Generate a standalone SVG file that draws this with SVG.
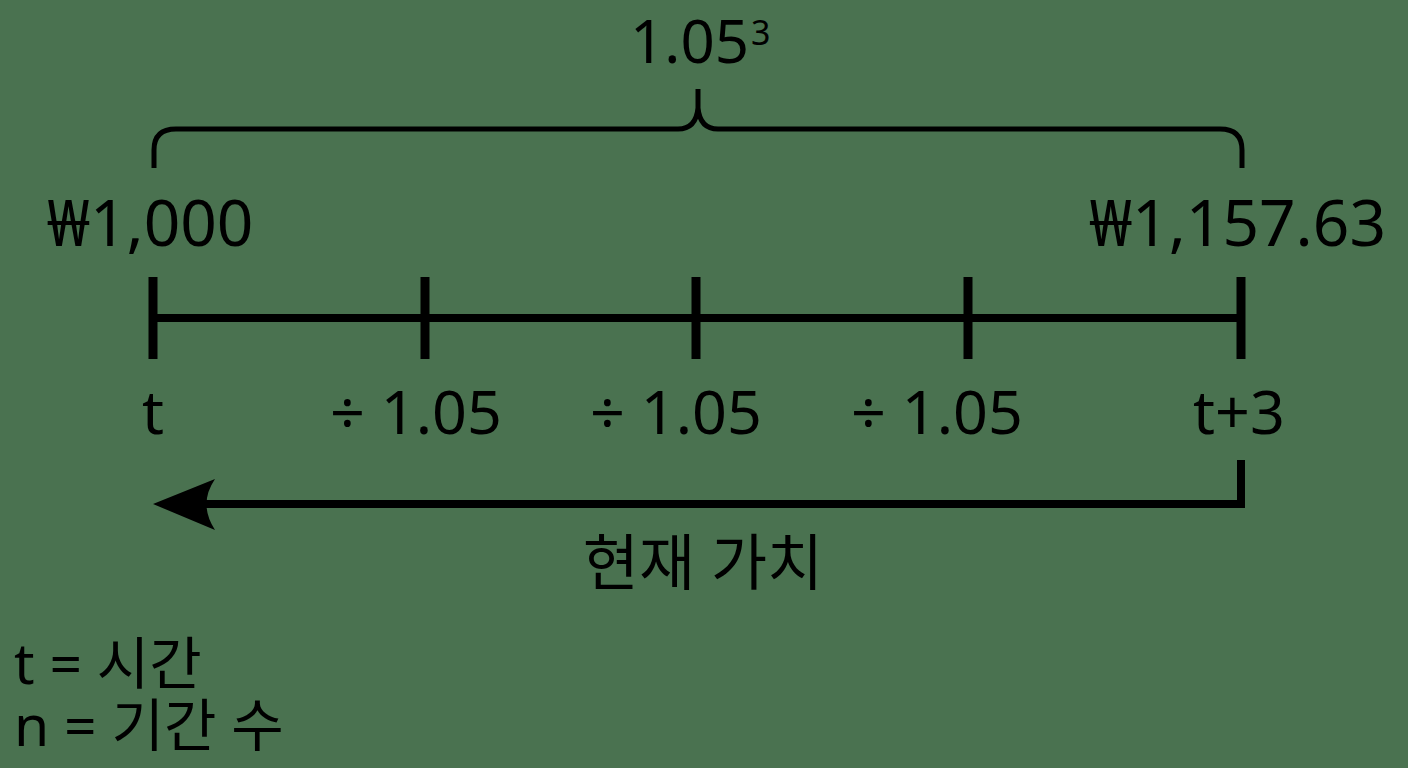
<svg xmlns="http://www.w3.org/2000/svg" width="1408" height="768" viewBox="0 0 1408 768">
<style>
text{font-family:"Noto Sans","Noto Sans CJK KR",sans-serif;fill:#000}
.lbl{font-size:61px;text-anchor:middle}
.line{stroke:#000;stroke-width:8;fill:none}
.tick{stroke:#000;stroke-width:9;fill:none}
</style>
<rect width="1408" height="768" fill="#4a7250"/>
<g id="brace">
<path d="M154,168 V150 Q154,129 176,129 H678 Q696,129 698,108 V89 M698,108 Q700,129 718,129 H1220 Q1242,129 1242,150 V168" stroke="#000" stroke-width="5" fill="none"/>
<text x="630" y="63" font-size="60">1.05<tspan font-size="34" dy="-18" dx="2">3</tspan></text>
</g>
<g id="amounts">
<text x="47" y="246" font-size="64">₩1,000</text>
<text x="1386" y="246" font-size="64" text-anchor="end">₩1,157.63</text>
</g>
<g id="timeline">
<line class="line" x1="152" y1="318" x2="1242" y2="318"/>
<line class="tick" x1="153" y1="277" x2="153" y2="359"/>
<line class="tick" x1="425" y1="277" x2="425" y2="359"/>
<line class="tick" x1="696" y1="277" x2="696" y2="359"/>
<line class="tick" x1="968" y1="277" x2="968" y2="359"/>
<line class="tick" x1="1241" y1="277" x2="1241" y2="359"/>
</g>
<g id="labels">
<text class="lbl" x="153" y="434">t</text>
<text class="lbl" x="416" y="434">÷ 1.05</text>
<text class="lbl" x="676" y="434">÷ 1.05</text>
<text class="lbl" x="937" y="434">÷ 1.05</text>
<text class="lbl" x="1239" y="434">t+3</text>
</g>
<g id="connectors">
<path class="line" d="M1241,460 V504 H200"/>
<path d="M153,504 L215,479 Q198,504 215,530 Z" fill="#000"/>
</g>
<g id="pv">
<text x="703" y="585" font-size="61" text-anchor="middle">현재 가치</text>
</g>
<g id="legend">
<text x="14" y="684" font-size="57">t = 시간</text>
<text x="14" y="746" font-size="57">n = 기간 수</text>
</g>
</svg>
